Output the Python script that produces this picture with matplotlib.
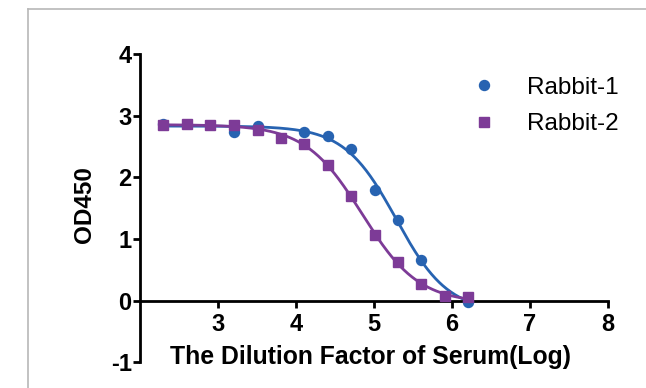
import numpy as np
import matplotlib
matplotlib.use("Agg")
import matplotlib.pyplot as plt
from matplotlib.lines import Line2D

# ---- data ----
series_names = ["Rabbit-1", "Rabbit-2"]
rabbit1_x = [2.30, 3.20, 3.51, 4.11, 4.41, 4.71, 5.01, 5.31, 5.61, 6.21]
rabbit1_y = [2.87, 2.74, 2.83, 2.73, 2.67, 2.46, 1.80, 1.31, 0.66, -0.02]
rabbit2_x = [2.30, 2.60, 2.90, 3.20, 3.51, 3.81, 4.11, 4.41, 4.71, 5.01,
             5.31, 5.61, 5.91, 6.21]
rabbit2_y = [2.85, 2.86, 2.85, 2.85, 2.76, 2.64, 2.54, 2.20, 1.69, 1.06,
             0.63, 0.27, 0.07, 0.06]
x_ticks = [3, 4, 5, 6, 7, 8]
y_ticks = [-1, 0, 1, 2, 3, 4]
x_label = "The Dilution Factor of Serum(Log)"
y_label = "OD450"

BLUE = "#2763b1"
PURPLE = "#7d3b97"
FAM = ["Liberation Sans", "DejaVu Sans"]

plt.rcParams["font.family"] = FAM
plt.rcParams["axes.unicode_minus"] = False


def four_pl(x, p):
    bottom, top, logec, hill = p
    return bottom + (top - bottom) / (1.0 + 10.0 ** ((x - logec) * hill))


def fit_four_pl(x, y, p0):
    """Levenberg-Marquardt least-squares fit of a 4PL curve to the data."""
    x = np.asarray(x, float)
    y = np.asarray(y, float)
    p = np.asarray(p0, float)
    lam = 1e-3
    for _ in range(500):
        r = y - four_pl(x, p)
        J = np.empty((len(x), len(p)))
        for k in range(len(p)):
            dp = np.zeros_like(p)
            dp[k] = 1e-6 * max(1.0, abs(p[k]))
            J[:, k] = (four_pl(x, p + dp) - four_pl(x, p - dp)) / (2 * dp[k])
        A = J.T @ J
        g = J.T @ r
        step = np.linalg.solve(A + lam * np.diag(np.diag(A) + 1e-12), g)
        p_new = p + step
        if np.sum((y - four_pl(x, p_new)) ** 2) < np.sum(r ** 2):
            p = p_new
            lam *= 0.3
            if np.max(np.abs(step)) < 1e-10:
                break
        else:
            lam *= 10
    return p


fig = plt.figure(figsize=(6.46, 3.88), dpi=100)
fig.patch.set_facecolor("white")
ax = fig.add_axes([0.2167, 0.066, 0.9407 - 0.2167, 0.861 - 0.066])

p1 = fit_four_pl(rabbit1_x, rabbit1_y, [0.0, 2.85, 5.2, 1.5])
p2 = fit_four_pl(rabbit2_x, rabbit2_y, [0.0, 2.85, 4.8, 1.2])

xs1 = np.linspace(min(rabbit1_x), max(rabbit1_x), 300)
xs2 = np.linspace(min(rabbit2_x), max(rabbit2_x), 300)

ax.plot(xs1, four_pl(xs1, p1), color=BLUE, lw=2.0, zorder=2)
ax.plot(xs2, four_pl(xs2, p2), color=PURPLE, lw=2.0, zorder=3)
ax.plot(rabbit1_x, rabbit1_y, linestyle="none", marker="o", ms=7.2,
        color=BLUE, zorder=4, label=series_names[0])
ax.plot(rabbit2_x, rabbit2_y, linestyle="none", marker="s", ms=6.6,
        color=PURPLE, zorder=5, label=series_names[1])

ax.set_xlim(2, 8)
ax.set_ylim(-1, 4)
ax.set_xticks(x_ticks)
ax.set_yticks(y_ticks)

for s in ["top", "right"]:
    ax.spines[s].set_visible(False)
ax.spines["bottom"].set_position(("data", 0))
for s in ["left", "bottom"]:
    ax.spines[s].set_linewidth(2.0)
    ax.spines[s].set_color("black")
ax.tick_params(axis="both", direction="out", length=5, width=2.0,
               labelsize=17, colors="black")
ax.tick_params(axis="x", pad=4)
ax.tick_params(axis="y", pad=1)
for lab in ax.get_xticklabels() + ax.get_yticklabels():
    lab.set_fontweight("bold")
    lab.set_family(FAM)

fig.text(0.574, 1 - 357 / 388, x_label, ha="center", va="center",
         fontsize=17.8, fontweight="bold", family=FAM)
fig.text(85 / 646, 1 - 205 / 388, y_label, ha="center", va="center",
         rotation=90, fontsize=17.5, fontweight="bold", family=FAM)

leg = ax.legend(loc="center left", bbox_to_anchor=(452 / 646, 1 - 106 / 388),
                bbox_transform=fig.transFigure, frameon=False,
                handletextpad=1.2, labelspacing=0.58, handlelength=1.2,
                borderpad=0.2,
                prop={"family": FAM, "size": 17.5})

# light gray frame of the original picture
fig.add_artist(Line2D([28 / 646, 1], [1 - 9 / 388, 1 - 9 / 388],
                      transform=fig.transFigure, color="#b8b8b8", lw=1.2))
fig.add_artist(Line2D([28 / 646, 28 / 646], [0, 1 - 9 / 388],
                      transform=fig.transFigure, color="#b8b8b8", lw=1.2))

fig.savefig("out.png", dpi=100)
